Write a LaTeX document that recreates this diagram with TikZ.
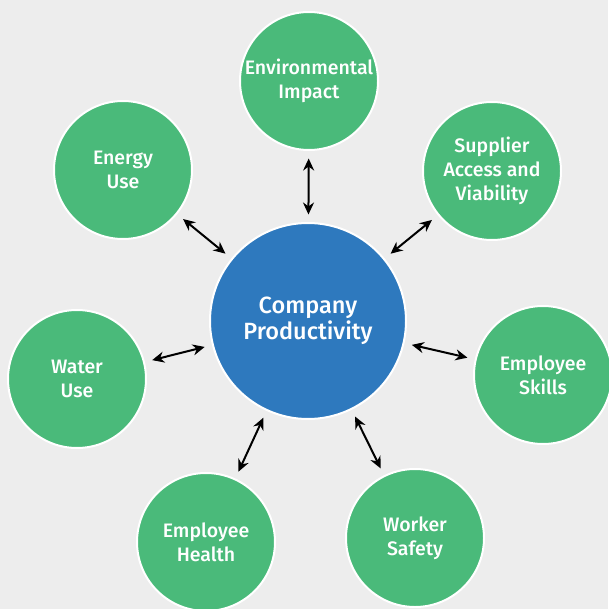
\documentclass[tikz,border=0pt]{standalone}
\usepackage{fontspec}
\setmainfont{Fira Sans}[UprightFont={* Medium}]
\usetikzlibrary{arrows.meta}
\definecolor{panelgray}{HTML}{EDEDED}
\definecolor{leafgreen}{HTML}{4ABA7A}
\definecolor{hubblue}{HTML}{2E79BE}

\tikzset{
	factor/.style={circle, draw=white, line width=2pt, fill=leafgreen, minimum size=138pt, inner sep=0pt, align=center, text=white, font=\fontsize{19.5}{24}\selectfont},
	hub/.style={factor, fill=hubblue, minimum size=196pt, font=\fontsize{23.5}{26}\selectfont},
	link/.style={{Stealth[length=12pt,width=11pt]}-{Stealth[length=12pt,width=11pt]}, line width=2pt, shorten <=7.5pt, shorten >=7.5pt}
}

\begin{document}
\begin{tikzpicture}[x=1pt, y=-1pt]
		%%%%% START %%%%%
		
		\fill[panelgray] (0, 0) rectangle (608, 609);
		\useasboundingbox (0, 0) rectangle (608, 609);
		
		\node[hub] (prod) at (308, 321) {Company\\Productivity};
		
		\node[factor] (env) at (309, 81) {Environmental\\Impact};
		\node[factor] (supp) at (492, 171) {Supplier\\Access and\\Viability};
		\node[factor] (skills) at (543, 375) {Employee\\Skills};
		\node[factor] (safety) at (415, 538) {Worker\\Safety};
		\node[factor] (health) at (206, 542) {Employee\\Health};
		\node[factor] (water) at (77, 379) {Water\\Use};
		\node[factor] (energy) at (123, 170) {Energy\\Use};
		
		% two-way links to the hub
		\foreach \f in {env, supp, skills, safety, health, water, energy}
			\draw[link] (prod) -- (\f);
		
		%%%%% END %%%%%
	\end{tikzpicture}
\end{document}
